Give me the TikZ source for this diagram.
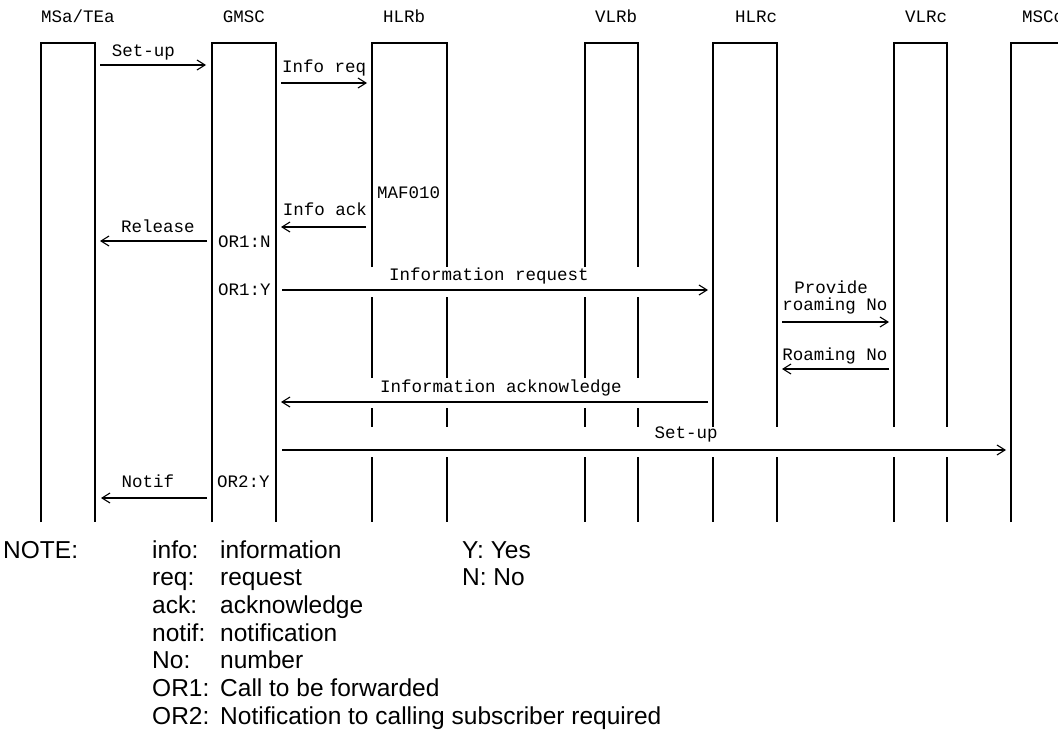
\documentclass[tikz,border=0pt]{standalone}
\usepackage{fontspec}
\setmainfont{Liberation Sans}
\newfontfamily\monof{Liberation Mono}
\usetikzlibrary{arrows.meta}
\tikzset{
  life/.style={line width=1.1pt, line cap=butt},
  msg/.style={line width=1.1pt, -{Straight Barb[length=8pt,width=10pt,line width=1.1pt]}},
  lbl/.style={inner sep=0pt, anchor=base, font=\monof\fontsize{17.5}{15}\selectfont},
  lbll/.style={lbl, anchor=base west},
  note/.style={inner sep=0pt, anchor=base west, font=\fontsize{24.5}{28}\selectfont}
}
\begin{document}
\begin{tikzpicture}[x=1pt,y=-1pt]
\useasboundingbox (0,0) rectangle (1058,744);
% headers
\node[lbl] (hA) at (78,23) {MSa/TEa};
\node[lbl] (hG) at (244,23) {GMSC};
\node[lbl] (hHB) at (404,23) {HLRb};
\node[lbl] (hVB) at (616,23) {VLRb};
\node[lbl] (hHC) at (756,23) {HLRc};
\node[lbl] (hVC) at (926,23) {VLRc};
\node[lbl, anchor=base west] (hMC) at (1022,23) {MSCc};
% lifeline boxes
\draw[life] (41,522) -- (41,43) -- (95,43) -- (95,522);
\draw[life] (212,522) -- (212,43) -- (276,43) -- (276,522);
\draw[life] (372,267) -- (372,43) -- (447,43) -- (447,267);
\draw[life] (585,267) -- (585,43) -- (638,43) -- (638,267);
\foreach \x in {372,447,585,638}{
  \draw[life] (\x,297) -- (\x,378);
  \draw[life] (\x,408) -- (\x,427);
  \draw[life] (\x,457) -- (\x,522);
}
\draw[life] (713,427) -- (713,43) -- (777,43) -- (777,427);
\draw[life] (894,427) -- (894,43) -- (947,43) -- (947,427);
\foreach \x in {713,777,894,947}{
  \draw[life] (\x,457) -- (\x,522);
}
\draw[life] (1011,522) -- (1011,43) -- (1058,43);
% message end points
\coordinate (m1a) at (100,65);  \coordinate (m1b) at (206,65);
\coordinate (m2a) at (281,83);  \coordinate (m2b) at (367,83);
\coordinate (m3a) at (366,227); \coordinate (m3b) at (281,227);
\coordinate (m4a) at (207,241); \coordinate (m4b) at (100,241);
\coordinate (m5a) at (282,290); \coordinate (m5b) at (708,290);
\coordinate (m6a) at (782,322); \coordinate (m6b) at (889,322);
\coordinate (m7a) at (889,369); \coordinate (m7b) at (782,369);
\coordinate (m8a) at (708,402); \coordinate (m8b) at (281,402);
\coordinate (m9a) at (282,450); \coordinate (m9b) at (1006,450);
\coordinate (m10a) at (207,498); \coordinate (m10b) at (101,498);
\draw[msg] (m1a) -- (m1b);
\draw[msg] (m2a) -- (m2b);
\draw[msg] (m3a) -- (m3b);
\draw[msg] (m4a) -- (m4b);
\draw[msg] (m5a) -- (m5b);
\draw[msg] (m6a) -- (m6b);
\draw[msg] (m7a) -- (m7b);
\draw[msg] (m8a) -- (m8b);
\draw[msg] (m9a) -- (m9b);
\draw[msg] (m10a) -- (m10b);
% labels
\node[lbl] (l1) at (143.5,56) {Set-up};
\node[lbll] (l2) at (282,72) {Info req};
\node[lbll] (l3) at (377,198) {MAF010};
\node[lbl] (l4) at (325,215) {Info ack};
\node[lbl] (l5) at (158,232) {Release};
\node[lbll] (l6) at (218,247) {OR1:N};
\node[lbll] (l7) at (218,295) {OR1:Y};
\node[lbl] (l8) at (489,280) {Information request};
\node[lbl] (l9a) at (831,293) {Provide};
\node[lbl] (l9b) at (835,310) {roaming No};
\node[lbl] (l10) at (835,360) {Roaming No};
\node[lbl] (l11) at (501,392) {Information acknowledge};
\node[lbl] (l12) at (686,438) {Set-up};
\node[lbl] (l13) at (148,487) {Notif};
\node[lbll] (l14) at (217,487) {OR2:Y};
% notes
\node[note] (n0) at (3,558) {NOTE:};
\node[note] (n1a) at (152,558) {info:};
\node[note] (n1b) at (220,558) {information};
\node[note] (n1c) at (462,558) {Y: Yes};
\node[note] (n2a) at (152,585.7) {req:};
\node[note] (n2b) at (220,585.7) {request};
\node[note] (n2c) at (462,585.7) {N: No};
\node[note] (n3a) at (152,613.4) {ack:};
\node[note] (n3b) at (220,613.4) {acknowledge};
\node[note] (n4a) at (152,641.1) {notif:};
\node[note] (n4b) at (220,641.1) {notification};
\node[note] (n5a) at (152,668.8) {No:};
\node[note] (n5b) at (220,668.8) {number};
\node[note] (n6a) at (152,696.5) {OR1:};
\node[note] (n6b) at (220,696.5) {Call to be forwarded};
\node[note] (n7a) at (152,724.2) {OR2:};
\node[note] (n7b) at (220,724.2) {Notification to calling subscriber required};
\end{tikzpicture}
\end{document}
